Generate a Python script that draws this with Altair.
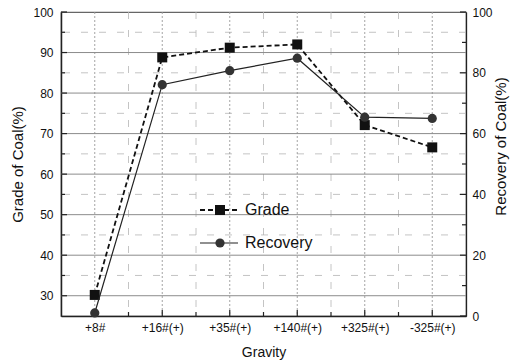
import altair as alt
import pandas as pd

# Gravity separation results: grade (left axis) and recovery (right axis)
categories = ["+8#", "+16#(+)", "+35#(+)", "+140#(+)", "+325#(+)", "-325#(+)"]
grade = [30.2, 88.8, 91.2, 92.0, 72.1, 66.6]
recovery = [1.0, 76.1, 80.7, 84.8, 65.4, 65.0]

grade_major = [30, 40, 50, 60, 70, 80, 90, 100]
grade_minor = [35, 45, 55, 65, 75, 85, 95]
recovery_major = [0, 20, 40, 60, 80, 100]
recovery_minor = [10, 30, 50, 70, 90]
x_major = list(range(len(categories)))
x_minor = [i + 0.5 for i in range(len(categories) - 1)]
legend_labels = ["Grade", "Recovery"]

W, H = 405, 304
FONT = "Liberation Sans"

x_scale = alt.Scale(domain=[-0.5, len(categories) - 0.5], nice=False, zero=False)
g_scale = alt.Scale(domain=[25, 100], nice=False, zero=False)
r_scale = alt.Scale(domain=[0, 100], nice=False, zero=False)

df = pd.DataFrame({
    "idx": x_major,
    "category": categories,
    "grade": grade,
    "recovery": recovery,
})

label_expr = "[" + ",".join("'%s'" % c for c in categories) + "][datum.value]"

# x is shared by every layer, so every layer carries the same axis definition
x_axis = alt.Axis(
    values=x_major, labelExpr=label_expr, title="Gravity",
    ticks=False, grid=False, domainColor="#222", domainWidth=1.5,
    labelPadding=6, titlePadding=12,
)
left_axis = alt.Axis(
    values=grade_major, title="Grade of Coal(%)", ticks=False, grid=False,
    domainColor="#222", domainWidth=1.5, labelPadding=8, titlePadding=7,
    titleFontSize=15,
)
right_axis = alt.Axis(
    orient="right", values=recovery_major, title="Recovery of Coal(%)",
    titleAngle=270, ticks=False, grid=False, domainColor="#222",
    domainWidth=1.3, labelPadding=6, titlePadding=16, titleY=134,
    titleFontSize=15,
)


def vals(values):
    return pd.DataFrame({"v": values})


def xq(field):
    return alt.X(field, scale=x_scale, axis=x_axis, title="Gravity")


# grid lines
h_major = alt.Chart(vals(grade_major[:-1])).mark_rule(color="#8c8c8c", strokeWidth=1).encode(
    y=alt.Y("v:Q", scale=g_scale, axis=None))
h_minor = alt.Chart(vals(grade_minor)).mark_rule(
    color="#b5b5b5", strokeWidth=0.8, strokeDash=[7, 11]).encode(
    y=alt.Y("v:Q", scale=g_scale, axis=None))
v_major = alt.Chart(vals(x_major)).mark_rule(
    color="#9a9a9a", strokeWidth=0.9, strokeDash=[2, 2]).encode(x=xq("v:Q"))
v_minor = alt.Chart(vals(x_minor)).mark_rule(
    color="#b5b5b5", strokeWidth=0.8, strokeDash=[7, 11]).encode(x=xq("v:Q"))

# inward tick marks
left_ticks = alt.Chart(vals(grade_major)).mark_rule(color="#222", strokeWidth=1.2).encode(
    y=alt.Y("v:Q", scale=g_scale, axis=None), x=alt.value(0), x2=alt.value(6))
left_minor_ticks = alt.Chart(vals(grade_minor)).mark_rule(color="#222", strokeWidth=1.2).encode(
    y=alt.Y("v:Q", scale=g_scale, axis=None), x=alt.value(0), x2=alt.value(4))
right_ticks = alt.Chart(vals(recovery_major)).mark_rule(color="#222", strokeWidth=1.2).encode(
    y=alt.Y("v:Q", scale=r_scale, axis=None), x=alt.value(W), x2=alt.value(W - 6))
right_minor_ticks = alt.Chart(vals(recovery_minor)).mark_rule(color="#222", strokeWidth=1.2).encode(
    y=alt.Y("v:Q", scale=r_scale, axis=None), x=alt.value(W), x2=alt.value(W - 4))
bottom_ticks = alt.Chart(vals(x_major)).mark_rule(color="#222", strokeWidth=1.2).encode(
    x=xq("v:Q"), y=alt.value(H), y2=alt.value(H - 6))
bottom_minor_ticks = alt.Chart(vals(x_minor)).mark_rule(color="#222", strokeWidth=1.2).encode(
    x=xq("v:Q"), y=alt.value(H), y2=alt.value(H - 4))

# data series
grade_line = alt.Chart(df).mark_line(color="#111", strokeWidth=1.8, strokeDash=[5, 3]).encode(
    x=xq("idx:Q"), y=alt.Y("grade:Q", scale=g_scale, axis=left_axis))
grade_pts = alt.Chart(df).mark_point(shape="square", filled=True, size=100, color="#111", opacity=1).encode(
    x=xq("idx:Q"), y=alt.Y("grade:Q", scale=g_scale, axis=None))
rec_line = alt.Chart(df).mark_line(color="#222", strokeWidth=1.2).encode(
    x=xq("idx:Q"), y=alt.Y("recovery:Q", scale=r_scale, axis=right_axis))
rec_pts = alt.Chart(df).mark_point(shape="circle", filled=True, size=85, color="#333", opacity=1).encode(
    x=xq("idx:Q"), y=alt.Y("recovery:Q", scale=r_scale, axis=None))


# in-plot legend
def legend_entry(label, y, line_kw, point_kw):
    d = pd.DataFrame({"label": [label]})
    line = alt.Chart(d).mark_rule(**line_kw).encode(
        x=alt.value(139), x2=alt.value(177), y=alt.value(y))
    pt = alt.Chart(d).mark_point(filled=True, opacity=1, **point_kw).encode(
        x=alt.value(159), y=alt.value(y))
    txt = alt.Chart(d).mark_text(
        align="left", baseline="middle", fontSize=16, font=FONT, color="#111").encode(
        x=alt.value(184), y=alt.value(y), text="label:N")
    return [line, pt, txt]


legend_layers = (
    legend_entry(legend_labels[0], 198,
                 dict(color="#111", strokeWidth=1.8, strokeDash=[5, 3]),
                 dict(shape="square", size=100, color="#111"))
    + legend_entry(legend_labels[1], 231,
                   dict(color="#222", strokeWidth=1.2),
                   dict(shape="circle", size=85, color="#333"))
)

chart = alt.layer(
    h_minor, v_minor, v_major, h_major,
    left_ticks, left_minor_ticks, right_ticks, right_minor_ticks,
    bottom_ticks, bottom_minor_ticks,
    grade_line, grade_pts, rec_line, rec_pts,
    *legend_layers,
).resolve_scale(y="independent").properties(
    width=W, height=H,
    padding={"left": 61, "top": 12, "right": 48, "bottom": 46},
    autosize=alt.AutoSizeParams(type="none"),
).configure_view(
    stroke="#666", strokeWidth=1.2,
).configure_axis(
    labelFont=FONT, titleFont=FONT, labelFontSize=12, titleFontSize=14,
    labelColor="#111", titleColor="#111", titleFontWeight="normal",
)

chart.save("out.html", embed_options={"renderer": "svg", "actions": False})
